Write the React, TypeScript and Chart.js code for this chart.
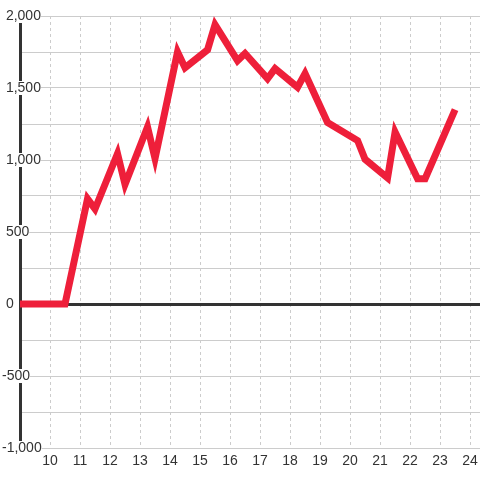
import React, { useEffect, useRef } from 'react';
import { Chart, registerables } from 'chart.js';

Chart.register(...registerables);

// Time of day (hours) and cumulative value
const hours = [8.75, 10.5, 11.25, 11.5, 12.25, 12.5, 13.25, 13.5, 14.25, 14.5, 15.25, 15.5, 16.25, 16.5, 17.25, 17.5, 18.25, 18.5, 19.25, 20.25, 20.5, 21.25, 21.5, 22.25, 22.5, 23.5];
const values = [0, 0, 730, 660, 1045, 830, 1230, 1010, 1750, 1640, 1765, 1940, 1690, 1740, 1565, 1635, 1505, 1600, 1260, 1135, 1005, 875, 1195, 870, 870, 1350];
const xTickValues = [10, 11, 12, 13, 14, 15, 16, 17, 18, 19, 20, 21, 22, 23, 24];
const yMin = -1000;
const yMax = 2000;
const yGridStep = 250;
const yLabelStep = 500;

const FONT = 'Liberation Sans, Arial, Helvetica, sans-serif';

export default function App() {
  const ref = useRef<HTMLCanvasElement>(null);
  useEffect(() => {
    document.body.style.margin = '0';
    const chart = new Chart(ref.current!, {
      type: 'line',
      data: {
        datasets: [
          {
            data: hours.map((h, i) => ({ x: h, y: values[i] })),
            borderColor: '#ee1f3a',
            backgroundColor: '#ee1f3a',
            borderWidth: 7,
            pointRadius: 0,
            pointHoverRadius: 0,
            fill: false,
            tension: 0,
            borderJoinStyle: 'miter',
            borderCapStyle: 'butt',
          },
        ],
      },
      options: {
        animation: false,
        responsive: false,
        maintainAspectRatio: false,
        layout: { padding: { top: 16, left: 2, right: 0, bottom: 0 } },
        plugins: { legend: { display: false }, tooltip: { enabled: false } },
        scales: {
          x: {
            type: 'linear',
            min: 9,
            max: 24.33,
            afterBuildTicks: (s: any) => {
              s.ticks = xTickValues.map((v) => ({ value: v }));
            },
            afterFit: (s: any) => {
              s.height = 32;
            },
            grid: { color: '#cccccc', lineWidth: 1, drawTicks: false },
            border: { display: false, dash: [3, 3] },
            ticks: {
              color: '#333333',
              font: { family: FONT, size: 14, lineHeight: 1.6 },
              padding: 2,
              maxRotation: 0,
              autoSkip: false,
              callback: (v: any) => String(v),
            },
          },
          y: {
            min: yMin,
            max: yMax,
            afterFit: (s: any) => {
              s.width = 18;
            },
            grid: {
              color: (ctx: any) => (ctx.tick && ctx.tick.value === 0 ? '#333333' : '#cccccc'),
              lineWidth: (ctx: any) => (ctx.tick && ctx.tick.value === 0 ? 3 : 1),
              drawTicks: false,
            },
            border: { display: true, color: '#333333', width: 3 },
            ticks: {
              stepSize: yGridStep,
              autoSkip: false,
              mirror: true,
              padding: -18,
              color: '#333333',
              font: { family: FONT, size: 14, lineHeight: 1 },
              showLabelBackdrop: true,
              backdropColor: (ctx: any) => (ctx.tick && ctx.tick.value % yLabelStep === 0 ? '#ffffff' : 'rgba(0,0,0,0)'),
              backdropPadding: (ctx: any) => ({
                top: 0,
                bottom: 0,
                left: 2,
                right: ctx.tick && ctx.tick.value === 0 ? 9 : 2,
              }),
              callback: (v: any) => {
                const n = Number(v);
                if (n % yLabelStep !== 0) return '';
                return (n < 0 ? '' : ' ') + n.toLocaleString('en-US');
              },
            },
          },
        },
      },
    } as any);
    return () => chart.destroy();
  }, []);
  return (
    <div style={{ position: 'absolute', left: 0, top: 0, width: 480, height: 480, background: '#ffffff' }}>
      <canvas ref={ref} width={480} height={480} style={{ display: 'block' }} />
    </div>
  );
}
